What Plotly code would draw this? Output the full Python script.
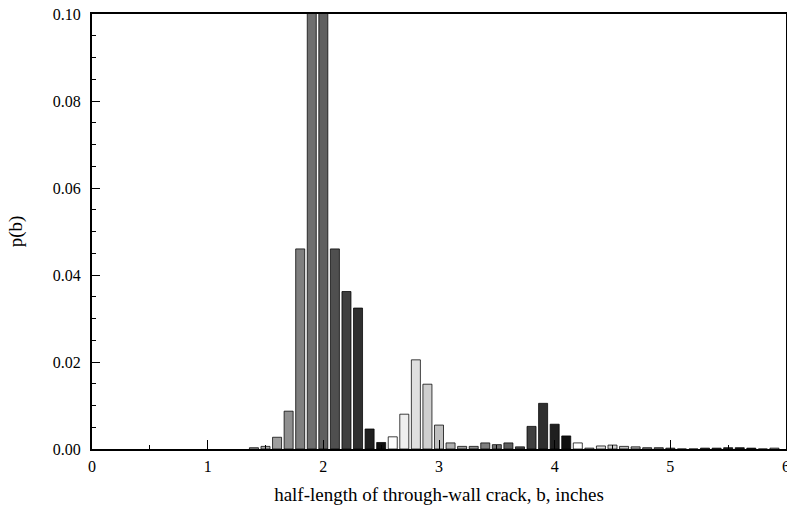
import plotly.graph_objects as go

# bin centres (inches) and probabilities
b_bins = [1.4, 1.5, 1.6, 1.7, 1.8, 1.9, 2.0, 2.1, 2.2, 2.3, 2.4, 2.5, 2.6, 2.7, 2.8, 2.9,
          3.0, 3.1, 3.2, 3.3, 3.4, 3.5, 3.6, 3.7, 3.8, 3.9, 4.0, 4.1, 4.2, 4.3, 4.4, 4.5,
          4.6, 4.7, 4.8, 4.9, 5.0, 5.1, 5.2, 5.3, 5.4, 5.5, 5.6, 5.7, 5.8, 5.9]
p_b = [0.0003, 0.0006, 0.0027, 0.0087, 0.0460, 0.3800, 0.3800, 0.0460, 0.0362, 0.0324,
       0.0046, 0.0015, 0.0028, 0.0080, 0.0205, 0.0149, 0.0055, 0.0014, 0.0006, 0.0006,
       0.0014, 0.0010, 0.0014, 0.0005, 0.0052, 0.0105, 0.0057, 0.0030, 0.0014, 0.0002,
       0.0007, 0.0009, 0.0006, 0.0005, 0.0003, 0.0003, 0.0002, 0.0, 0.0, 0.0002,
       0.0002, 0.0003, 0.0003, 0.0002, 0.0, 0.0002]
x_ticks = [0, 1, 2, 3, 4, 5, 6]
y_ticks = [0.00, 0.02, 0.04, 0.06, 0.08, 0.10]

# grey shade cycles white -> black every 16 bins (style only)
colors = []
for b in b_bins:
    k = (round(b * 10) - 10) % 16
    g = 255 - 16 * k
    colors.append(f"rgb({g},{g},{g})")

font_family = "Liberation Serif"

fig = go.Figure(go.Bar(
    x=b_bins, y=p_b, width=0.078,
    marker=dict(color=colors, line=dict(color="rgba(0,0,0,0.75)", width=1)),
))

fig.update_layout(
    width=787, height=506,
    margin=dict(l=92, r=1, t=14, b=57, autoexpand=False),
    plot_bgcolor="white", paper_bgcolor="white",
    font=dict(family=font_family, size=16, color="black"),
    showlegend=False,
)
fig.update_xaxes(
    range=[0, 6], tickvals=x_ticks, ticktext=[str(v) for v in x_ticks],
    ticks="inside", ticklen=9, tickwidth=1, tickcolor="black",
    minor=dict(dtick=0.5, ticks="inside", ticklen=4, tickcolor="black"),
    showline=True, linewidth=2, linecolor="black", mirror=True,
    showgrid=False, zeroline=False, automargin=False,
    ticklabelstandoff=2, ticklabeloverflow="allow",
    title=dict(text="half-length of through-wall crack, b, inches", font=dict(size=19), standoff=13),
)
fig.update_yaxes(
    range=[0, 0.10], tickvals=y_ticks, ticktext=[f"{v:.2f}" for v in y_ticks],
    ticks="inside", ticklen=8, tickwidth=1, tickcolor="black",
    minor=dict(dtick=0.005, ticks="inside", ticklen=4, tickcolor="black"),
    showline=True, linewidth=2, linecolor="black", mirror=True,
    showgrid=False, zeroline=False, automargin=False,
    ticklabelstandoff=6, ticklabeloverflow="allow",
    title=dict(text="p(b)", font=dict(size=19), standoff=25),
)

fig.write_html(
    "out.html",
    config={"displayModeBar": False},
    post_script="document.body.style.margin='0';document.body.style.overflow='hidden';",
)
